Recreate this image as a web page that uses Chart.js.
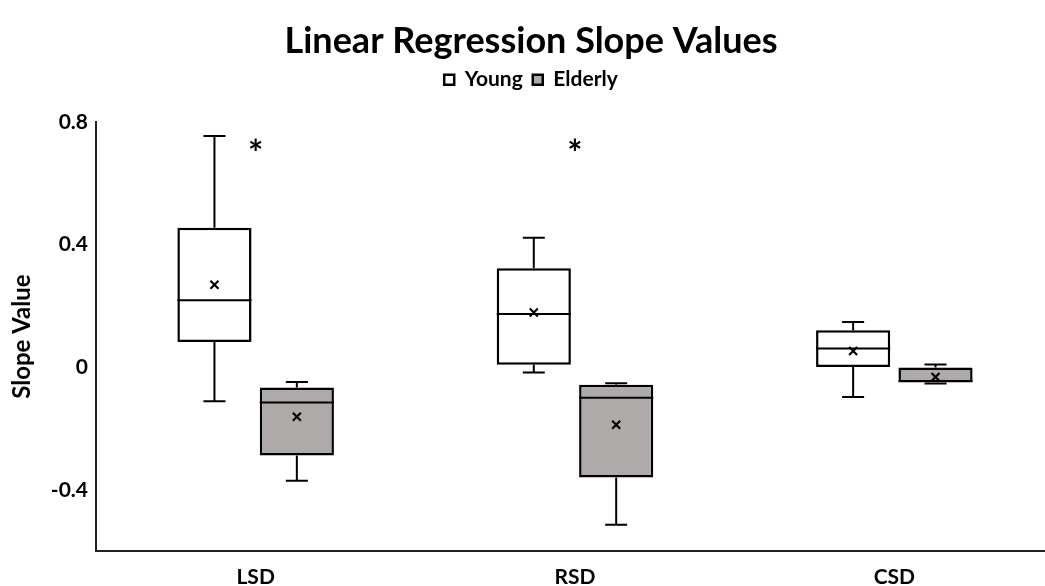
<!DOCTYPE html>
<html>
<head>
<meta charset="utf-8">
<script src="https://cdn.jsdelivr.net/npm/chart.js@4/dist/chart.umd.min.js"></script>
<style>
  html, body { margin: 0; padding: 0; background: #fff; overflow: hidden; }
  #wrap { width: 1054px; height: 586px; }
</style>
</head>
<body>
<div id="wrap"><canvas id="chart"></canvas></div>
<script>
// categories and box plot stats
const categories = ['LSD', 'RSD', 'CSD'];

const youngMin    = [-0.111, -0.017, -0.097];
const youngQ1     = [0.082, 0.008, 0.001];
const youngMedian = [0.219, 0.174, 0.061];
const youngQ3     = [0.455, 0.323, 0.121];
const youngMax    = [0.755, 0.423, 0.148];
const youngMean   = [0.269, 0.179, 0.053];

const elderlyMin    = [-0.371, -0.514, -0.053];
const elderlyQ1     = [-0.288, -0.360, -0.050];
const elderlyMedian = [-0.115, -0.100, -0.045];
const elderlyQ3     = [-0.066, -0.057, -0.001];
const elderlyMax    = [-0.048, -0.052, 0.009];
const elderlyMean   = [-0.162, -0.188, -0.032];

const yTicks = [-0.4, 0, 0.4, 0.8];
const sigLabels = ['*', '*', ''];
const sigValue = 0.72;

const stats = [
	{ min: youngMin, med: youngMedian, max: youngMax, mean: youngMean, q1: youngQ1, q3: youngQ3 },
	{ min: elderlyMin, med: elderlyMedian, max: elderlyMax, mean: elderlyMean, q1: elderlyQ1, q3: elderlyQ3 }
];

const FONT = 'Lato, "Open Sans", sans-serif';

// push the plot down below the legend
const legendGap = {
	id: 'legendGap',
	beforeInit(chart) {
		const fit = chart.legend.fit;
		chart.legend.fit = function () {
			fit.bind(chart.legend)();
			this.height = 63;
		};
	}
};

// whiskers, medians, means and significance stars
const boxExtras = {
	id: 'boxExtras',
	afterDatasetsDraw(chart) {
		const ctx = chart.ctx;
		const y = chart.scales.y;
		ctx.save();
		ctx.strokeStyle = '#000';
		ctx.lineCap = 'butt';
		chart.data.datasets.forEach((ds, di) => {
			const meta = chart.getDatasetMeta(di);
			const s = stats[di];
			meta.data.forEach((bar, i) => {
				const x = bar.x;
				const half = bar.width / 2;
				const cap = 11;
				const pTop = y.getPixelForValue(s.q3[i]);
				const pBot = y.getPixelForValue(s.q1[i]);
				const pMax = y.getPixelForValue(s.max[i]);
				const pMin = y.getPixelForValue(s.min[i]);
				ctx.lineWidth = 2;
				ctx.beginPath();
				ctx.moveTo(x, pTop); ctx.lineTo(x, pMax);
				ctx.moveTo(x - cap, pMax); ctx.lineTo(x + cap, pMax);
				ctx.moveTo(x, pBot); ctx.lineTo(x, pMin);
				ctx.moveTo(x - cap, pMin); ctx.lineTo(x + cap, pMin);
				ctx.stroke();
				// median
				const pMed = y.getPixelForValue(s.med[i]);
				ctx.beginPath();
				ctx.moveTo(x - half, pMed); ctx.lineTo(x + half, pMed);
				ctx.stroke();
				// mean marker
				const pMean = y.getPixelForValue(s.mean[i]);
				const m = 4;
				ctx.lineWidth = 2.2;
				ctx.beginPath();
				ctx.moveTo(x - m, pMean - m); ctx.lineTo(x + m, pMean + m);
				ctx.moveTo(x + m, pMean - m); ctx.lineTo(x - m, pMean + m);
				ctx.stroke();
			});
		});
		ctx.fillStyle = '#000';
		ctx.font = 'bold 36px ' + FONT;
		ctx.textAlign = 'center';
		ctx.textBaseline = 'middle';
		sigLabels.forEach((t, i) => {
			if (!t) return;
			ctx.fillText(t, chart.scales.x.getPixelForValue(i), y.getPixelForValue(sigValue) + 8);
		});
		ctx.restore();
	}
};

new Chart(document.getElementById('chart'), {
	type: 'bar',
	data: {
		labels: categories,
		datasets: [
			{
				label: 'Young',
				data: youngQ1.map((v, i) => [v, youngQ3[i]]),
				backgroundColor: '#ffffff',
				borderColor: '#000',
				borderWidth: 2.5,
				borderSkipped: false
			},
			{
				label: 'Elderly',
				data: elderlyQ1.map((v, i) => [v, elderlyQ3[i]]),
				backgroundColor: '#aeaaaa',
				borderColor: '#000',
				borderWidth: 2.5,
				borderSkipped: false
			}
		]
	},
	options: {
		responsive: true,
		maintainAspectRatio: false,
		animation: false,
		categoryPercentage: 0.516,
		barPercentage: 0.9,
		layout: { padding: { left: 8, right: 0, top: 0, bottom: 0 } },
		plugins: {
			tooltip: { enabled: false },
			title: {
				display: true,
				text: 'Linear Regression Slope Values',
				color: '#000',
				font: { family: FONT, size: 36, weight: 'bold' },
				padding: { top: 20, bottom: -4 }
			},
			legend: {
				display: true,
				labels: {
					color: '#000',
					boxWidth: 10,
					boxHeight: 10,
					padding: 10,
					font: { family: FONT, size: 21, weight: 'bold' }
				}
			}
		},
		scales: {
			x: {
				afterFit: (scale) => { scale.height = 35; },
				grid: { display: false, drawTicks: false },
				border: { display: true, color: '#222', width: 2 },
				ticks: { color: '#000', padding: 14, font: { family: FONT, size: 21, weight: 'bold' } }
			},
			y: {
				min: -0.6,
				max: 0.8,
				afterBuildTicks: (axis) => { axis.ticks = yTicks.map(v => ({ value: v })); },
				grid: { display: false, drawTicks: false },
				border: { display: true, color: '#222', width: 2 },
				title: {
					display: true,
					text: 'Slope Value',
					color: '#000',
					font: { family: FONT, size: 24, weight: 'bold' },
					padding: { top: 0, bottom: 6 }
				},
				ticks: {
					color: '#000',
					padding: 8,
					font: { family: FONT, size: 21, weight: 'bold' },
					callback: (v) => String(v)
				}
			}
		}
	},
	plugins: [legendGap, boxExtras]
});
</script>
</body>
</html>
